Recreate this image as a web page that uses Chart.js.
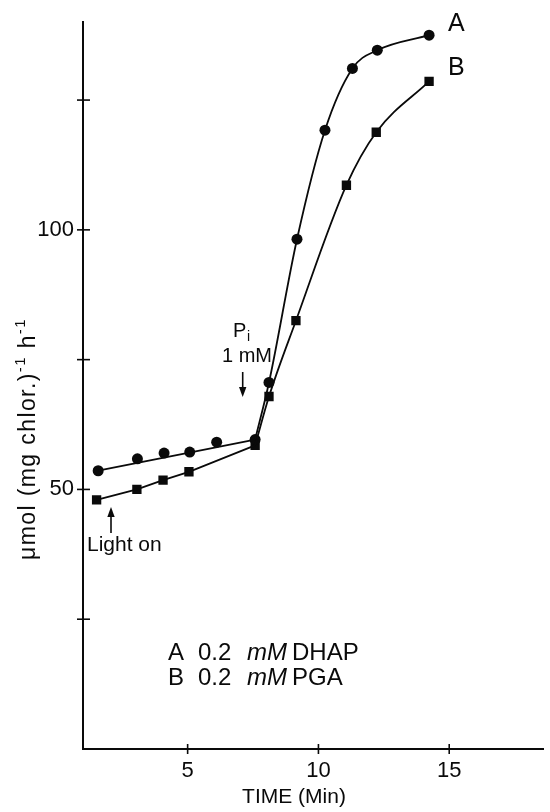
<!DOCTYPE html>
<html><head><meta charset="utf-8">
<script src="https://cdn.jsdelivr.net/npm/chart.js@4.4.0/dist/chart.umd.min.js"></script>
<style>html,body{margin:0;padding:0;background:#fff}#wrap{width:550px;height:812px}</style>
</head><body><div id="wrap"><canvas id="c" width="550" height="812"></canvas></div>
<script>
// Data
const timeA = [1.58, 3.08, 4.10, 5.08, 6.11, 7.58, 8.11, 9.18, 10.25, 11.30, 12.25, 14.23];
const rateA = [53.6, 55.9, 57.0, 57.2, 59.1, 59.6, 70.6, 98.2, 119.2, 131.1, 134.6, 137.5];
const timeB = [1.52, 3.06, 4.06, 5.05, 7.58, 8.11, 9.14, 11.07, 12.21, 14.23];
const rateB = [48.0, 50.0, 51.8, 53.4, 58.5, 67.9, 82.5, 108.6, 118.8, 128.6];
const xTicks = [5, 10, 15];
const yTicks = [25, 50, 75, 100, 125];
const yLabels = [50, 100];
const seriesNames = ['A', 'B'];
const legendLines = [['A', '0.2', 'mM', 'DHAP'], ['B', '0.2', 'mM', 'PGA']];

const ptsA = timeA.map((t, i) => ({x: t, y: rateA[i]}));
const ptsB = timeB.map((t, i) => ({x: t, y: rateB[i]}));
const FONT = '"Liberation Sans", Arial, sans-serif';
const INK = '#0a0a0a';

const lineBase = {showLine: true, pointRadius: 0, borderColor: INK, borderWidth: 1.8, fill: false};

const overlay = {
  id: 'overlay',
  afterDraw(chart) {
    const ctx = chart.ctx, xs = chart.scales.x, ys = chart.scales.y;
    const ax = chart.chartArea.bottom, ay = chart.chartArea.left;
    ctx.save();
    ctx.strokeStyle = INK; ctx.fillStyle = INK; ctx.lineWidth = 1.6;
    // crossing tick marks
    xTicks.forEach(v => { const p = xs.getPixelForValue(v); ctx.beginPath(); ctx.moveTo(p, ax - 5); ctx.lineTo(p, ax + 5); ctx.stroke(); });
    yTicks.forEach(v => { const p = ys.getPixelForValue(v); ctx.beginPath(); ctx.moveTo(ay - 6, p); ctx.lineTo(ay + 7, p); ctx.stroke(); });

    // series labels
    ctx.textBaseline = 'alphabetic'; ctx.textAlign = 'left';
    ctx.font = '25px ' + FONT;
    ctx.fillText(seriesNames[0], 448, 31);
    ctx.fillText(seriesNames[1], 448, 75);

    // legend
    const lx = [168, 198, 247, 292];
    legendLines.forEach((parts, r) => {
      const by = 660 + r * 25;
      parts.forEach((s, k) => {
        ctx.font = (k === 2 ? 'italic ' : '') + '24px ' + FONT;
        ctx.fillText(s, lx[k], by);
      });
    });

    // Pi annotation
    ctx.font = '20px ' + FONT;
    ctx.fillText('P', 233, 337);
    ctx.font = '14px ' + FONT;
    ctx.fillText('i', 247, 341);
    ctx.font = '20px ' + FONT;
    ctx.fillText('1 mM', 222, 362);
    ctx.beginPath(); ctx.moveTo(242.7, 372); ctx.lineTo(242.7, 392); ctx.stroke();
    ctx.beginPath(); ctx.moveTo(239, 387); ctx.lineTo(246.4, 387); ctx.lineTo(242.7, 397); ctx.closePath(); ctx.fill();

    // Light on
    ctx.font = '21px ' + FONT;
    ctx.fillText('Light on', 87, 551);
    ctx.beginPath(); ctx.moveTo(111, 533); ctx.lineTo(111, 512); ctx.stroke();
    ctx.beginPath(); ctx.moveTo(107.3, 517); ctx.lineTo(114.7, 517); ctx.lineTo(111, 507); ctx.closePath(); ctx.fill();

    // x title
    ctx.font = '21px ' + FONT; ctx.textAlign = 'center';
    ctx.fillText('TIME (Min)', 294, 803);

    // y title with superscripts
    ctx.translate(35, 439); ctx.rotate(-Math.PI / 2);
    const segs = [['\u03bcmol (mg chlor.)', 23, 0], ['-1', 15, -10], [' h', 23, 0], ['-1', 15, -10]];
    const target = 242;
    let total = 0, n = 0;
    segs.forEach(s => { ctx.font = s[1] + 'px ' + FONT; total += ctx.measureText(s[0]).width; n += s[0].length; });
    const ls = Math.max(0, (target - total) / n);
    ctx.letterSpacing = ls + 'px';
    let cx = -target / 2; ctx.textAlign = 'left';
    segs.forEach(s => { ctx.font = s[1] + 'px ' + FONT; ctx.fillText(s[0], cx, s[2]); cx += ctx.measureText(s[0]).width; });
    ctx.restore();
  }
};

new Chart(document.getElementById('c'), {
  type: 'scatter',
  data: {
    datasets: [
      Object.assign({}, lineBase, {data: [ptsA[0], ptsA[5]], tension: 0}),
      Object.assign({}, lineBase, {data: ptsA.slice(5), cubicInterpolationMode: 'monotone'}),
      Object.assign({}, lineBase, {data: ptsB.slice(0, 5), tension: 0}),
      Object.assign({}, lineBase, {data: ptsB.slice(4), cubicInterpolationMode: 'monotone'}),
      {data: ptsA, pointStyle: 'circle', pointRadius: 5.5, backgroundColor: INK, borderWidth: 0, showLine: false},
      {data: ptsB, pointStyle: 'rect', pointRadius: 6.6, backgroundColor: INK, borderWidth: 0, showLine: false}
    ]
  },
  options: {
    responsive: false, animation: false, devicePixelRatio: 1,
    layout: {padding: {top: 8, right: 2, left: 0, bottom: 0}},
    plugins: {legend: {display: false}, tooltip: {enabled: false}},
    scales: {
      x: {
        type: 'linear', min: 1, max: 18.6,
        afterBuildTicks: s => { s.ticks = xTicks.map(v => ({value: v})); },
        afterFit: s => { s.height = 63; },
        ticks: {font: {family: FONT, size: 22}, color: INK, padding: 9, maxRotation: 0},
        grid: {display: true, drawOnChartArea: false, drawTicks: false},
        border: {display: true, color: INK, width: 2}
      },
      y: {
        type: 'linear', min: 0, max: 140,
        afterBuildTicks: s => { s.ticks = yTicks.map(v => ({value: v})); },
        afterFit: s => { s.width = 83; },
        ticks: {font: {family: FONT, size: 22}, color: INK, padding: 9,
          callback: v => yLabels.includes(v) ? String(v) : ''},
        grid: {display: true, drawOnChartArea: false, drawTicks: false},
        border: {display: true, color: INK, width: 2}
      }
    }
  },
  plugins: [overlay]
});
</script></body></html>
